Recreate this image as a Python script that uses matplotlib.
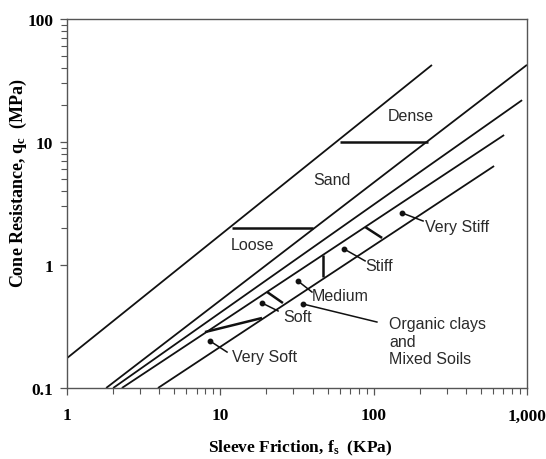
import matplotlib
matplotlib.use("Agg")
import matplotlib.pyplot as plt

# classification lines (sleeve friction kPa, cone resistance MPa) end points
line_f = [[1.0, 240], [1.8, 1000], [2.0, 929], [2.28, 709], [3.92, 610]]
line_q = [[0.175, 42.3], [0.1, 42.4], [0.1, 21.9], [0.1, 11.4], [0.1, 6.38]]

# short boundary segments between zones
bound_f = [[11.9, 40.2], [60.4, 226], [7.94, 18.7], [20.2, 25.6], [46.8, 46.8], [87.9, 113.5]]
bound_q = [[2.0, 2.0], [10.0, 10.0], [0.285, 0.371], [0.603, 0.491], [1.21, 0.80], [2.04, 1.66]]

# zone names placed in open areas
zone_names = ["Dense", "Sand", "Loose"]
zone_f = [175, 53.5, 16.1]
zone_q = [16.3, 5.0, 1.48]

# pointer labels: dot position, leader end, text position
ptr_names = ["Very Soft", "Soft", "Medium", "Stiff", "Very Stiff",
             "Organic clays\nand\nMixed Soils"]
ptr_dot_f = [8.57, 18.7, 32.1, 64.1, 153, 34.6]
ptr_dot_q = [0.241, 0.491, 0.741, 1.35, 2.65, 0.482]
ptr_end_f = [11.06, 23.8, 39.6, 87.9, 210, 105]
ptr_end_q = [0.196, 0.423, 0.603, 1.08, 2.28, 0.344]
ptr_txt_f = [11.9, 25.6, 39.6, 87.9, 216, 126]
ptr_txt_q = [0.179, 0.385, 0.560, 1.0, 2.07, 0.241]

xticks = [1, 10, 100, 1000]
xtick_labels = ["1", "10", "100", "1,000"]
yticks = [0.1, 1, 10, 100]
ytick_labels = ["0.1", "1", "10", "100"]

plt.rcParams["mathtext.fontset"] = "custom"
plt.rcParams["mathtext.rm"] = "Liberation Serif:bold"
plt.rcParams["mathtext.it"] = "Liberation Serif:bold"

fig = plt.figure(figsize=(5.46, 4.60), dpi=100)
ax = fig.add_axes([0.1227, 0.1543, 0.8425, 0.8022])
ax.set_xscale("log")
ax.set_yscale("log")
ax.set_xlim(1, 1000)
ax.set_ylim(0.1, 100)

for fx, qy in zip(line_f, line_q):
    ax.plot(fx, qy, color="#111111", lw=1.3, solid_capstyle="butt")

for fx, qy in zip(bound_f, bound_q):
    ax.plot(fx, qy, color="#111111", lw=1.8, solid_capstyle="butt")

sans = ["Liberation Sans", "DejaVu Sans"]
for name, fx, qy in zip(zone_names, zone_f, zone_q):
    ax.text(fx, qy, name, ha="center", va="center", fontsize=11.5,
            color="#2a2a2a", family=sans)

for i, name in enumerate(ptr_names):
    ax.plot([ptr_dot_f[i], ptr_end_f[i]], [ptr_dot_q[i], ptr_end_q[i]],
            color="#111111", lw=1.1)
    ax.plot(ptr_dot_f[i], ptr_dot_q[i], "o", color="#111111", ms=3.2)
    ax.text(ptr_txt_f[i], ptr_txt_q[i], name, ha="left", va="center",
            fontsize=11.5, color="#2a2a2a", family=sans, linespacing=1.2)

ax.set_xticks(xticks, labels=xtick_labels)
ax.set_yticks(yticks, labels=ytick_labels)
ax.set_xticks([s * d for d in [1, 10, 100] for s in range(2, 10)], minor=True)
ax.set_yticks([s * d for d in [1, 10] for s in range(2, 10)], minor=True)
ax.xaxis.set_minor_formatter(plt.NullFormatter())
ax.yaxis.set_minor_formatter(plt.NullFormatter())

ax.tick_params(which="major", direction="out", length=5, width=0.9,
               color="#555555", pad=9)
ax.tick_params(which="minor", direction="out", length=4, width=0.8,
               color="#555555")
ax.tick_params(axis="y", which="major", pad=5)
for lab in ax.get_xticklabels() + ax.get_yticklabels():
    lab.set_fontfamily("Liberation Serif")
    lab.set_fontweight("bold")
    lab.set_fontsize(12.5)

for sp in ax.spines.values():
    sp.set_color("#555555")
    sp.set_linewidth(1.0)

ax.set_xlabel(r"Sleeve Friction, f$_{\mathrm{s}}$  (KPa)", family="Liberation Serif",
              fontweight="bold", fontsize=12.5)
ax.set_ylabel(r"Cone Resistance, q$_{\mathrm{c}}$  (MPa)", family="Liberation Serif",
              fontweight="bold", fontsize=13)
ax.xaxis.set_label_coords(0.507, -0.135)
ax.yaxis.set_label_coords(-0.082, 0.558)

fig.savefig("out.png", dpi=100)
